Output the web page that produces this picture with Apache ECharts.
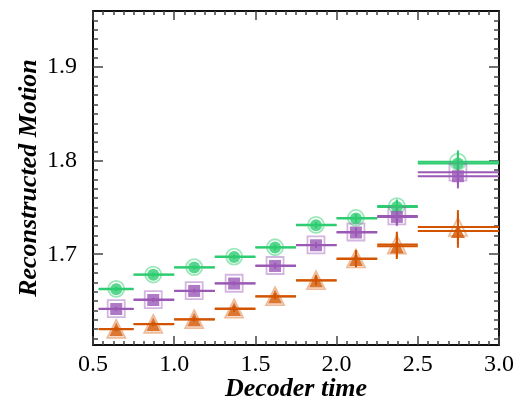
<!DOCTYPE html>
<html><head><meta charset="utf-8">
<script src="https://cdn.jsdelivr.net/npm/echarts@6/dist/echarts.min.js"></script>
<style>html,body{margin:0;padding:0;background:#fff}#c{width:519px;height:400px}</style>
</head><body><div id="c"></div><script>
// bins
const binLo = [0.535, 0.75, 1.0, 1.25, 1.5, 1.75, 2.0, 2.25, 2.5];
const binHi = [0.75, 1.0, 1.25, 1.5, 1.75, 2.0, 2.25, 2.5, 3.0];
const binX  = [0.643, 0.871, 1.123, 1.369, 1.621, 1.873, 2.119, 2.371, 2.747];
// filled markers
const greenFilled  = [1.6626, 1.6780, 1.6858, 1.6971, 1.7071, 1.7310, 1.7382, 1.7506, 1.7970];
const purpleFilled = [1.6415, 1.6511, 1.6608, 1.6687, 1.6875, 1.7096, 1.7232, 1.7399, 1.7834];
const orangeFilled = [1.6198, 1.6251, 1.6302, 1.6415, 1.6548, 1.6719, 1.6950, 1.7086, 1.7249];
// open markers
const greenOpen  = [1.6630, 1.6783, 1.6862, 1.6975, 1.7075, 1.7314, 1.7388, 1.7515, 1.7990];
const purpleOpen = [1.6418, 1.6515, 1.6611, 1.6690, 1.6880, 1.7100, 1.7238, 1.7410, 1.7877];
const orangeOpen = [1.6202, 1.6255, 1.6306, 1.6420, 1.6552, 1.6723, 1.6955, 1.7104, 1.7292];
// vertical errors
const greenErr  = [0.002, 0.002, 0.002, 0.002, 0.003, 0.003, 0.004, 0.007, 0.012];
const purpleErr = [0.002, 0.002, 0.002, 0.002, 0.003, 0.003, 0.005, 0.0095, 0.013];
const orangeErr = [0.002, 0.002, 0.002, 0.003, 0.003, 0.005, 0.009, 0.0137, 0.018];
// ticks
const xTickLabels = [0.5, 1.0, 1.5, 2.0, 2.5, 3.0];
const yTickLabels = [1.7, 1.8, 1.9];
const yMinorTicks = [1.61,1.62,1.63,1.64,1.65,1.66,1.67,1.68,1.69,1.71,1.72,1.73,1.74,1.75,1.76,1.77,1.78,1.79,1.81,1.82,1.83,1.84,1.85,1.86,1.87,1.88,1.89,1.91,1.92,1.93,1.94,1.95];

const GREEN = '#2ecc71', PURPLE = '#9b59b6', ORANGE = '#d35400';
const FONT = 'Liberation Serif';

function hbar(vals, color, z) {
  return {
    type: 'custom', z: z, clip: true,
    data: vals.map((v, i) => [binLo[i], binHi[i], v]),
    encode: { x: [0, 1], y: 2 },
    renderItem: (params, api) => {
      const a = api.coord([api.value(0), api.value(2)]);
      const b = api.coord([api.value(1), api.value(2)]);
      return { type: 'line', shape: { x1: a[0], y1: a[1], x2: b[0], y2: b[1] },
               style: { stroke: color, lineWidth: 2 } };
    }
  };
}
function vbar(vals, errs, color, z) {
  return {
    type: 'custom', z: z, clip: true,
    data: vals.map((v, i) => [binX[i], v - errs[i], v + errs[i]]),
    encode: { x: 0, y: [1, 2] },
    renderItem: (params, api) => {
      const a = api.coord([api.value(0), api.value(1)]);
      const b = api.coord([api.value(0), api.value(2)]);
      return { type: 'line', shape: { x1: a[0], y1: a[1], x2: b[0], y2: b[1] },
               style: { stroke: color, lineWidth: 2 } };
    }
  };
}
function pts(vals, symbol, size, style, z) {
  return {
    type: 'scatter', z: z, symbol: symbol, symbolSize: size,
    data: vals.map((v, i) => [binX[i], v]),
    itemStyle: style, emphasis: { disabled: true }
  };
}

const tickStyle = { color: '#444', width: 1.5 };
const axisLineStyle = { color: '#111', width: 2 };
function xAxis(pos, labels) {
  return {
    type: 'value', position: pos, min: 0.5, max: 3.0, interval: 0.5,
    axisLine: { show: true, onZero: false, lineStyle: axisLineStyle },
    axisTick: { show: true, inside: true, length: 9, lineStyle: tickStyle },
    minorTick: { show: true, splitNumber: 8, length: 4, lineStyle: tickStyle },
    axisLabel: { show: labels, margin: 8, fontFamily: FONT, fontSize: 24, color: '#000',
                 formatter: v => v.toFixed(1) },
    splitLine: { show: false }, minorSplitLine: { show: false }
  };
}
function yAxis(pos, custom, len, labels, line) {
  return {
    type: 'value', position: pos, offset: 0, min: 1.603, max: 1.96,
    axisLine: { show: line, onZero: false, lineStyle: axisLineStyle },
    axisTick: { show: true, inside: true, length: len, customValues: custom, lineStyle: tickStyle },
    axisLabel: { show: labels, customValues: yTickLabels, margin: 16, fontFamily: FONT, fontSize: 24,
                 color: '#000', formatter: v => v.toFixed(1) },
    splitLine: { show: false }
  };
}

const yA = yAxis('left', yTickLabels, 10, true, true);
yA.name = 'Reconstructed Motion';
yA.nameLocation = 'middle';
yA.nameGap = 51;
yA.nameMoveOverlap = false;
yA.nameTextStyle = { fontFamily: FONT, fontSize: 26, fontWeight: 'bold', fontStyle: 'italic', color: '#000' };
const xA = xAxis('bottom', true);
xA.name = 'Decoder time';
xA.nameLocation = 'middle';
xA.nameGap = 31;
xA.nameMoveOverlap = false;
xA.nameTextStyle = { fontFamily: FONT, fontSize: 26, fontWeight: 'bold', fontStyle: 'italic', color: '#000' };

const chart = echarts.init(document.getElementById('c'), null, { renderer: 'canvas' });
chart.setOption({
  animation: false,
  backgroundColor: '#fff',
  grid: { left: 93, right: 20, top: 11, bottom: 55, outerBoundsMode: 'none', containLabel: false },
  xAxis: [xA, xAxis('top', false)],
  yAxis: [yA, yAxis('left', yMinorTicks, 5, false, false),
          yAxis('right', yTickLabels, 10, false, true), yAxis('right', yMinorTicks, 5, false, false)],
  series: [
    hbar(greenOpen, GREEN, 2), hbar(greenFilled, GREEN, 2),
    hbar(purpleOpen, PURPLE, 2), hbar(purpleFilled, PURPLE, 2),
    hbar(orangeOpen, ORANGE, 2), hbar(orangeFilled, ORANGE, 2),
    vbar(greenFilled, greenErr, GREEN, 2), vbar(greenOpen, greenErr, GREEN, 2),
    vbar(purpleFilled, purpleErr, PURPLE, 2), vbar(purpleOpen, purpleErr, PURPLE, 2),
    vbar(orangeFilled, orangeErr, ORANGE, 2), vbar(orangeOpen, orangeErr, ORANGE, 2),
    pts(greenOpen, 'circle', 16, { color: 'rgba(255,255,255,0)', borderColor: 'rgba(46,204,113,0.6)', borderWidth: 1.8 }, 3),
    pts(purpleOpen, 'rect', 17, { color: 'rgba(255,255,255,0)', borderColor: 'rgba(155,89,182,0.55)', borderWidth: 1.8 }, 3),
    pts(orangeOpen, 'triangle', 18, { color: 'rgba(255,255,255,0)', borderColor: 'rgba(211,84,0,0.5)', borderWidth: 1.8 }, 3),
    pts(greenFilled, 'circle', 12, { color: GREEN }, 4),
    pts(purpleFilled, 'rect', 12, { color: PURPLE }, 4),
    pts(orangeFilled, 'triangle', 14, { color: ORANGE }, 4)
  ]
});
</script></body></html>
